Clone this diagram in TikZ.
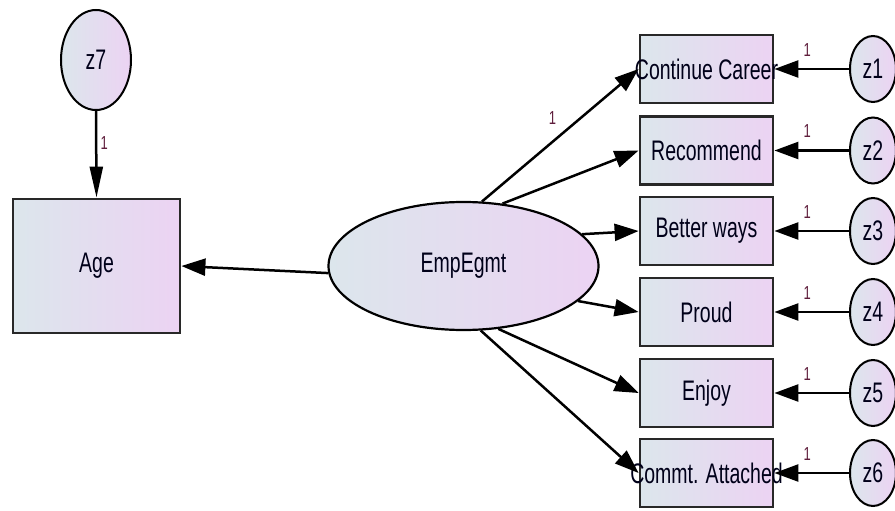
\documentclass[tikz,border=0pt]{standalone}
\usepackage{fontspec}
\setmainfont{Liberation Sans}
\usetikzlibrary{shapes.geometric,arrows.meta}
\definecolor{fillL}{RGB}{220,230,236}
\definecolor{fillR}{RGB}{236,211,243}
\definecolor{edgec}{RGB}{40,40,40}
\definecolor{onec}{RGB}{95,30,60}
\newcommand{\vtxt}[1]{\scalebox{1}[1.45]{#1}}
\begin{document}
\begin{tikzpicture}[x=1pt,y=-1pt,
  obsbox/.style={draw=edgec, line width=2.8pt, left color=fillL, right color=fillR,
    minimum width=133pt, minimum height=68pt, inner sep=0pt,
    font=\fontsize{19.5}{20}\selectfont, text=black!90!blue},
  agebox/.style={obsbox, minimum width=167pt, minimum height=134pt},
  latent/.style={ellipse, draw=black, line width=2.2pt, left color=fillL, right color=fillR,
    minimum width=270pt, minimum height=128pt, inner sep=0pt,
    font=\fontsize{19.5}{20}\selectfont, text=black!90!blue},
  errc/.style={ellipse, draw=black, line width=2pt, left color=fillL, right color=fillR,
    minimum width=46pt, minimum height=66pt, inner sep=0pt,
    font=\fontsize{19.5}{20}\selectfont, text=black!90!blue},
  bigerr/.style={errc, minimum width=70pt, minimum height=100pt},
  conn/.style={line width=2.5pt, black, -{Triangle[length=24pt,width=17pt]}},
  vconn/.style={line width=2.5pt, black, -{Triangle[length=31pt,width=13pt]}},
  onelab/.style={font=\fontsize{13}{14}\selectfont, text=onec, inner sep=0pt}
]
\useasboundingbox (0,0) rectangle (895,511);

% nodes
\node[bigerr] (z7) at (96,60) {\vtxt{z7}};
\node[agebox] (age) at (96.5,266) {\vtxt{Age}};
\node[latent] (emp) at (463.5,266) {\vtxt{EmpEgmt}};

\node[obsbox] (cc) at (706.5,69) {\makebox[0pt]{\vtxt{Continue Career}}};
\node[obsbox] (rec) at (706.5,150.5) {\makebox[0pt]{\vtxt{Recommend}}};
\node[obsbox] (bw) at (706.5,231) {\makebox[0pt]{\vtxt{Better ways}}};
\node[obsbox] (pr) at (706.5,312) {\makebox[0pt]{\vtxt{Proud}}};
\node[obsbox] (en) at (706.5,393) {\makebox[0pt]{\vtxt{Enjoy}}};
\node[obsbox] (ca) at (706.5,473) {\makebox[0pt]{\vtxt{Commt. Attached}}};

\node[errc] (z1) at (873,69) {\vtxt{z1}};
\node[errc] (z2) at (873,150.5) {\vtxt{z2}};
\node[errc] (z3) at (873,231) {\vtxt{z3}};
\node[errc] (z4) at (873,312) {\vtxt{z4}};
\node[errc] (z5) at (873,393) {\vtxt{z5}};
\node[errc] (z6) at (873,473) {\vtxt{z6}};

% connectors
\draw[vconn] (z7.south) -- node[onelab, pos=0.37, xshift=8pt] {\vtxt{1}} (age.north);
\draw[conn] (emp.183) -- (age.east);

\draw[conn] (emp.74) -- node[onelab, pos=0.45, yshift=24pt] {\vtxt{1}} (cc.west);
\draw[conn] (emp.58) -- (rec.west);
\draw[conn] (emp.15) -- (bw.west);
\draw[conn] (emp.-17) -- (pr.west);
\draw[conn] (emp.-61) -- (en.west);
\draw[conn] (emp.-75) -- (ca.west);

\draw[conn] (z1.west) -- node[onelab, pos=0.56, yshift=19pt] {\vtxt{1}} (cc.east);
\draw[conn] (z2.west) -- node[onelab, pos=0.56, yshift=19pt] {\vtxt{1}} (rec.east);
\draw[conn] (z3.west) -- node[onelab, pos=0.56, yshift=19pt] {\vtxt{1}} (bw.east);
\draw[conn] (z4.west) -- node[onelab, pos=0.56, yshift=19pt] {\vtxt{1}} (pr.east);
\draw[conn] (z5.west) -- node[onelab, pos=0.56, yshift=19pt] {\vtxt{1}} (en.east);
\draw[conn] (z6.west) -- node[onelab, pos=0.56, yshift=19pt] {\vtxt{1}} (ca.east);
\end{tikzpicture}
\end{document}
